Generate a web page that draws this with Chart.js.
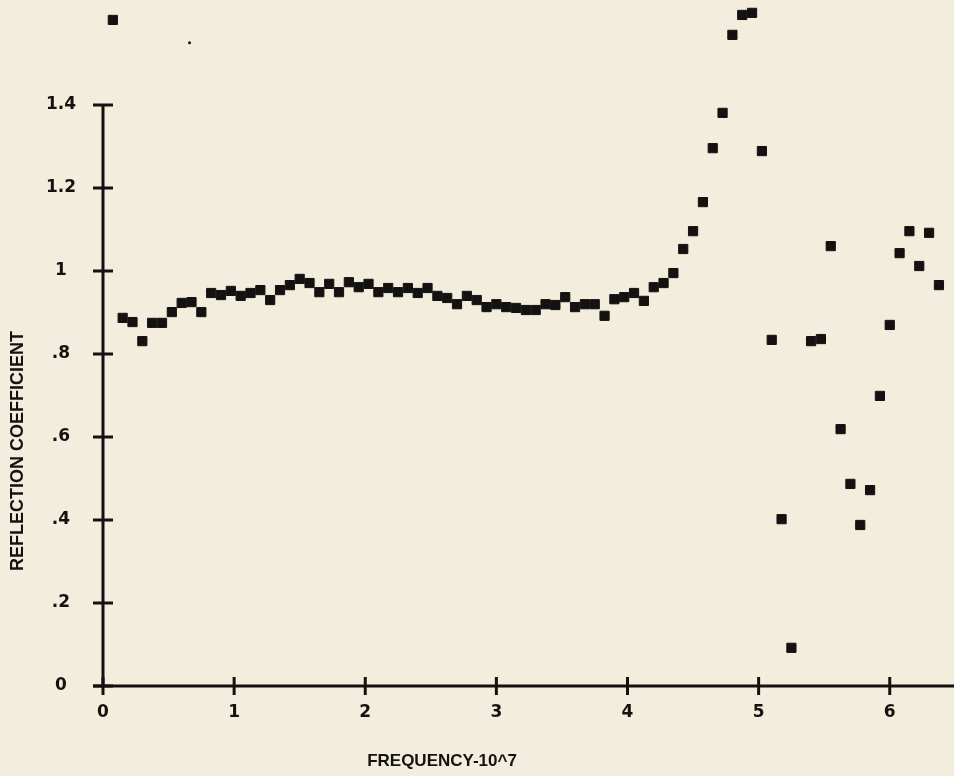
<!DOCTYPE html>
<html>
<head>
<meta charset="utf-8">
<script src="https://cdn.jsdelivr.net/npm/chart.js@4/dist/chart.umd.min.js"></script>
<style>
  html, body { margin: 0; padding: 0; background: #f2eddc; }
  #wrap { width: 954px; height: 776px; position: relative; }
</style>
</head>
<body>
<div id="wrap"><canvas id="myChart"></canvas></div>
<script>
// DATOS DEL GRAFICO
const frequency = [
  0.075, 0.15, 0.225, 0.3, 0.375, 0.45, 0.525, 0.6, 0.675, 0.75,
  0.825, 0.9, 0.975, 1.05, 1.125, 1.2, 1.275, 1.35, 1.425, 1.5,
  1.575, 1.65, 1.725, 1.8, 1.875, 1.95, 2.025, 2.1, 2.175, 2.25,
  2.325, 2.4, 2.475, 2.55, 2.625, 2.7, 2.775, 2.85, 2.925, 3.0,
  3.075, 3.15, 3.225, 3.3, 3.375, 3.45, 3.525, 3.6, 3.675, 3.75,
  3.825, 3.9, 3.975, 4.05, 4.125, 4.2, 4.275, 4.35, 4.425, 4.5,
  4.575, 4.65, 4.725, 4.8, 4.875, 4.95, 5.025, 5.1, 5.175, 5.25,
  5.325, 5.4, 5.475, 5.55, 5.625, 5.7, 5.775, 5.85, 5.925, 6.0,
  6.075, 6.15, 6.225, 6.3, 6.375
];
const reflection = [
  1.605, 0.887, 0.877, 0.831, 0.875, 0.875, 0.901, 0.923, 0.925, 0.901,
  0.947, 0.942, 0.952, 0.940, 0.947, 0.954, 0.930, 0.954, 0.966, 0.981,
  0.971, 0.949, 0.969, 0.949, 0.973, 0.961, 0.969, 0.949, 0.959, 0.949,
  0.959, 0.947, 0.959, 0.940, 0.935, 0.920, 0.940, 0.930, 0.913, 0.920,
  0.913, 0.911, 0.906, 0.906, 0.920, 0.918, 0.937, 0.913, 0.920, 0.920,
  0.892, 0.932, 0.937, 0.947, 0.928, 0.961, 0.971, 0.995, 1.053, 1.096,
  1.166, 1.296, 1.381, 1.569, 1.617, 1.622, 1.289, 0.834, 0.402, 0.092,
  null, 0.831, 0.836, 1.060, 0.619, 0.487, 0.388, 0.472, 0.699, 0.870,
  1.043, 1.096, 1.012, 1.092, 0.966
];
// mancha pequeña arriba a la izquierda
const speckX = [0.66];
const speckY = [1.55];

const xTicks = [0, 1, 2, 3, 4, 5, 6];
const yTicks = [0, 0.2, 0.4, 0.6, 0.8, 1, 1.2, 1.4];
const yTickLabels = ["0", ".2", ".4", ".6", ".8", "1", "1.2", "1.4"];
const xTitle = "FREQUENCY-10^7";
const yTitle = "REFLECTION COEFFICIENT";

const INK = "#141210";

// EJES DIBUJADOS A MANO (estilo plotter)
const plotterAxes = {
  id: "plotterAxes",
  beforeDatasetsDraw(chart) {
    const ctx = chart.ctx;
    const xs = chart.scales.x;
    const ys = chart.scales.y;
    const x0 = xs.getPixelForValue(0);
    const y0 = ys.getPixelForValue(0);
    const yTop = ys.getPixelForValue(yTicks[yTicks.length - 1]);
    ctx.save();
    ctx.strokeStyle = INK;
    ctx.fillStyle = INK;
    ctx.lineWidth = 3;
    // eje y
    ctx.beginPath();
    ctx.moveTo(x0, y0);
    ctx.lineTo(x0, yTop);
    ctx.stroke();
    // eje x
    ctx.beginPath();
    ctx.moveTo(x0 - 10, y0);
    ctx.lineTo(chart.width, y0);
    ctx.stroke();

    ctx.font = "bold 17px 'DejaVu Sans'";
    ctx.textAlign = "center";
    ctx.textBaseline = "middle";
    yTicks.forEach((v, i) => {
      const py = ys.getPixelForValue(v);
      ctx.beginPath();
      ctx.moveTo(x0 - 10, py);
      ctx.lineTo(x0 + 10, py);
      ctx.stroke();
      ctx.fillText(yTickLabels[i], 61, py);
    });
    xTicks.forEach((v) => {
      const px = xs.getPixelForValue(v);
      ctx.beginPath();
      ctx.moveTo(px, y0 - 9);
      ctx.lineTo(px, y0 + 9);
      ctx.stroke();
      ctx.fillText(String(v), px, y0 + 27);
    });

    // titulos
    ctx.font = "bold 17px 'Liberation Sans'";
    ctx.fillText(xTitle, 442, 761);
    ctx.save();
    ctx.translate(18, 451);
    ctx.rotate(-Math.PI / 2);
    ctx.font = "bold 18px 'Liberation Sans'";
    ctx.fillText(yTitle, 0, 0);
    ctx.restore();
    ctx.restore();
  }
};

const points = frequency.map((f, i) => ({ x: f, y: reflection[i] }));
const speck = speckX.map((f, i) => ({ x: f, y: speckY[i] }));

const config = {
  type: "scatter",
  data: {
    datasets: [
      {
        label: "Reflection",
        data: points,
        pointStyle: "rect",
        pointRadius: 6.5,
        backgroundColor: INK,
        borderColor: INK,
        borderWidth: 1,
        clip: false
      },
      {
        label: "speck",
        data: speck,
        pointStyle: "circle",
        pointRadius: 1.5,
        backgroundColor: INK,
        borderWidth: 0,
        clip: false
      }
    ]
  },
  options: {
    responsive: true,
    maintainAspectRatio: false,
    animation: false,
    layout: { autoPadding: false, padding: { left: 103, right: 0, top: 0, bottom: 90 } },
    plugins: { legend: { display: false }, tooltip: { enabled: false } },
    scales: {
      x: { type: "linear", display: false, min: 0, max: 6.49 },
      y: { type: "linear", display: false, min: 0, max: 1.653 }
    }
  },
  plugins: [plotterAxes]
};

const myChart = document.getElementById("myChart");
window.grafica = new Chart(myChart, config);
</script>
</body>
</html>
